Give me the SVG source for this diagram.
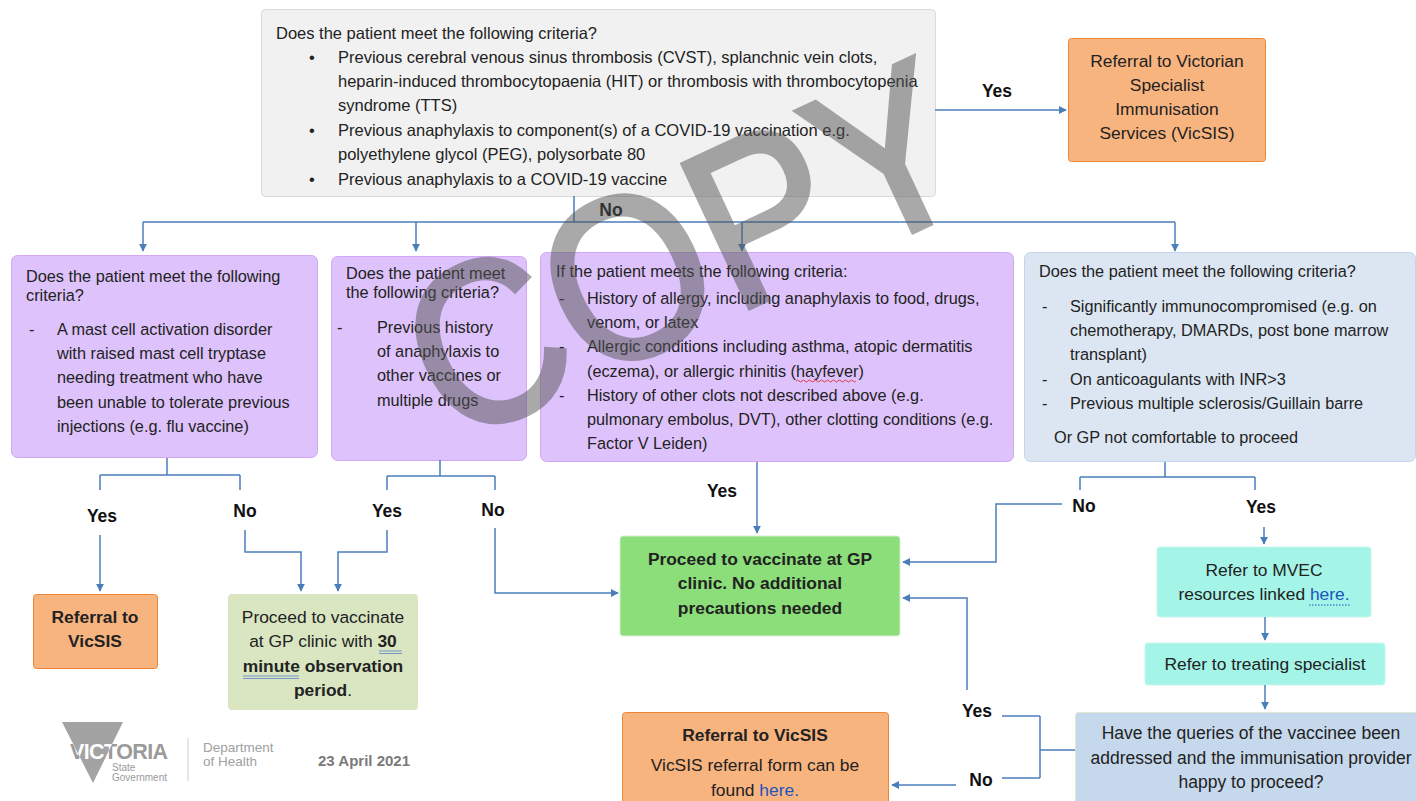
<svg xmlns="http://www.w3.org/2000/svg" width="1416" height="801" viewBox="0 0 1416 801">
<defs>
<style>
text{font-family:"Liberation Sans",Arial,sans-serif;fill:#222}
.t16{font-size:16.5px}
.t15{font-size:16.3px}
.t17{font-size:17.4px}
.b{font-weight:bold}
.lbl{font-size:17.5px;font-weight:bold;fill:#111}
.c{text-anchor:middle}
.conn path{fill:none;stroke:#4a7ebb;stroke-width:1.5}
.link{fill:#1a55c0}
</style>
<marker id="ah" viewBox="0 0 10 10" refX="9" refY="5" markerWidth="8" markerHeight="8" markerUnits="userSpaceOnUse" orient="auto">
<path d="M0,0 L10,5 L0,10 z" fill="#4a7ebb"/>
</marker>
<clipPath id="tri"><polygon points="62,722 123,722 93,783"/></clipPath>
</defs>
<rect width="1416" height="801" fill="#ffffff"/>

<g id="n-top">
<rect x="261.5" y="9.5" width="674" height="187" rx="4" fill="#f1f1f1" stroke="#dadada"/>
<text class="t16" x="276" y="39">Does the patient meet the following criteria?</text>
<text class="t16" x="309" y="63">•</text>
<text class="t16" x="338" y="63">Previous cerebral venous sinus thrombosis (CVST), splanchnic vein clots,</text>
<text class="t16" x="338" y="87">heparin-induced thrombocytopaenia (HIT) or thrombosis with thrombocytopenia</text>
<text class="t16" x="338" y="111">syndrome (TTS)</text>
<text class="t16" x="309" y="136">•</text>
<text class="t16" x="338" y="136">Previous anaphylaxis to component(s) of a COVID-19 vaccination e.g.</text>
<text class="t16" x="338" y="160">polyethylene glycol (PEG), polysorbate 80</text>
<text class="t16" x="309" y="185">•</text>
<text class="t16" x="338" y="185">Previous anaphylaxis to a COVID-19 vaccine</text>
</g>

<g id="n-vicsis-top">
<rect x="1068.5" y="38.5" width="197" height="123" rx="3" fill="#f8b47f" stroke="#ee8534"/>
<text class="t17 c" x="1167" y="67">Referral to Victorian</text>
<text class="t17 c" x="1167" y="91">Specialist</text>
<text class="t17 c" x="1167" y="115">Immunisation</text>
<text class="t17 c" x="1167" y="139">Services (VicSIS)</text>
</g>

<g id="n-mast">
<rect x="11.5" y="255.5" width="306" height="202" rx="6" fill="#dec2fb" stroke="#d2a8f5"/>
<text class="t15" x="26" y="282">Does the patient meet the following</text>
<text class="t15" x="26" y="301">criteria?</text>
<text class="t15" x="29" y="335">-</text>
<text class="t15" x="57" y="335">A mast cell activation disorder</text>
<text class="t15" x="57" y="359">with raised mast cell tryptase</text>
<text class="t15" x="57" y="383">needing treatment who have</text>
<text class="t15" x="57" y="408">been unable to tolerate previous</text>
<text class="t15" x="57" y="432">injections (e.g. flu vaccine)</text>
</g>

<g id="n-prevana">
<rect x="331.5" y="256.5" width="195" height="204" rx="6" fill="#dec2fb" stroke="#d2a8f5"/>
<text class="t15" x="346" y="279">Does the patient meet</text>
<text class="t15" x="346" y="298">the following criteria?</text>
<text class="t15" x="337" y="333">-</text>
<text class="t15" x="377" y="333">Previous history</text>
<text class="t15" x="377" y="357">of anaphylaxis to</text>
<text class="t15" x="377" y="381">other vaccines or</text>
<text class="t15" x="377" y="406">multiple drugs</text>
</g>

<g id="n-allergy">
<rect x="540.5" y="252.5" width="473" height="209" rx="6" fill="#dec2fb" stroke="#d2a8f5"/>
<text class="t15" x="556" y="277">If the patient meets the following criteria:</text>
<text class="t15" x="559" y="304">-</text>
<text class="t15" x="587" y="304">History of allergy, including anaphylaxis to food, drugs,</text>
<text class="t15" x="587" y="328">venom, or latex</text>
<text class="t15" x="559" y="352">-</text>
<text class="t15" x="587" y="352">Allergic conditions including asthma, atopic dermatitis</text>
<text class="t15" x="587" y="377">(eczema), or allergic rhinitis (hayfever)</text>
<path d="M796,381 q1.5,-2 3,0 t3,0 t3,0 t3,0 t3,0 t3,0 t3,0 t3,0 t3,0 t3,0 t3,0 t3,0 t3,0 t3,0 t3,0 t3,0 t3,0 t3,0 t3,0 t3,0" fill="none" stroke="#e03030" stroke-width="0.9"/>
<text class="t15" x="559" y="401">-</text>
<text class="t15" x="587" y="401">History of other clots not described above (e.g.</text>
<text class="t15" x="587" y="425">pulmonary embolus, DVT), other clotting conditions (e.g.</text>
<text class="t15" x="587" y="449">Factor V Leiden)</text>
</g>

<g id="n-immuno">
<rect x="1024.5" y="252.5" width="391" height="209" rx="6" fill="#dce6f2" stroke="#c2d5ec"/>
<text class="t15" x="1039" y="277">Does the patient meet the following criteria?</text>
<text class="t15" x="1042" y="312">-</text>
<text class="t15" x="1070" y="312">Significantly immunocompromised (e.g. on</text>
<text class="t15" x="1070" y="336">chemotherapy, DMARDs, post bone marrow</text>
<text class="t15" x="1070" y="360">transplant)</text>
<text class="t15" x="1042" y="385">-</text>
<text class="t15" x="1070" y="385">On anticoagulants with INR&gt;3</text>
<text class="t15" x="1042" y="409">-</text>
<text class="t15" x="1070" y="409">Previous multiple sclerosis/Guillain barre</text>
<text class="t15" x="1054" y="443">Or GP not comfortable to proceed</text>
</g>

<g id="n-vicsis-left">
<rect x="33.5" y="594.5" width="124" height="74" rx="3" fill="#f8b47f" stroke="#ee8534"/>
<text class="t17 b c" x="95" y="623">Referral to</text>
<text class="t17 b c" x="95" y="647">VicSIS</text>
</g>

<g id="n-30min">
<rect x="228" y="594" width="190" height="116" rx="4" fill="#d9e6c1"/>
<text class="t17 c" x="323" y="623">Proceed to vaccinate</text>
<text class="t17 c" x="323" y="647">at GP clinic with <tspan class="b">30</tspan></text>
<text class="t17 c" x="323" y="672"><tspan class="b">minute observation</tspan></text>
<text class="t17 c" x="323" y="696"><tspan class="b">period</tspan>.</text>
<path d="M379,651 h23 M379,653.5 h23 M243,676 h56 M243,678.5 h56" stroke="#5b7fcf" stroke-width="0.8" fill="none"/>
</g>

<g id="n-proceed">
<rect x="620" y="536" width="280" height="100" rx="3" fill="#8bde79" stroke="#d8efd2"/>
<text class="t17 b c" x="760" y="565">Proceed to vaccinate at GP</text>
<text class="t17 b c" x="760" y="589">clinic. No additional</text>
<text class="t17 b c" x="760" y="614">precautions needed</text>
</g>

<g id="n-mvec">
<rect x="1157" y="547" width="214" height="70" rx="3" fill="#a4f4e7" stroke="#c9f5ee"/>
<text class="t17 c" x="1264" y="576">Refer to MVEC</text>
<text class="t17 c" x="1264" y="600">resources linked <tspan class="link">here.</tspan></text>
<path d="M1309,605 h41" stroke="#1a55c0" stroke-width="1" stroke-dasharray="1.5,1.5"/>
</g>

<g id="n-specialist">
<rect x="1145" y="643" width="240" height="42" rx="3" fill="#a4f4e7" stroke="#c9f5ee"/>
<text class="t17 c" x="1265" y="670">Refer to treating specialist</text>
</g>

<g id="n-queries">
<rect x="1075.5" y="712.5" width="345" height="110" rx="3" fill="#c6d8ec" stroke="#dfe6d3"/>
<text class="c" style="font-size:17.5px" x="1251" y="739">Have the queries of the vaccinee been</text>
<text class="c" style="font-size:17.5px" x="1251" y="764">addressed and the immunisation provider</text>
<text class="c" style="font-size:17.5px" x="1251" y="788">happy to proceed?</text>
</g>

<g id="n-vicsis-bottom">
<rect x="622.5" y="712.5" width="266" height="110" rx="3" fill="#f8b47f" stroke="#ee8534"/>
<text class="t17 b c" x="755" y="741">Referral to VicSIS</text>
<text class="t17 c" x="755" y="771">VicSIS referral form can be</text>
<text class="t17 c" x="755" y="796">found <tspan class="link">here.</tspan></text>
</g>

<g id="connectors" class="conn">
<path d="M935,110 H1066" marker-end="url(#ah)"/>
<path d="M574,196 V222 M143,222 H1175"/>
<path d="M143,222 V251" marker-end="url(#ah)"/>
<path d="M416,222 V251" marker-end="url(#ah)"/>
<path d="M742,222 V251" marker-end="url(#ah)"/>
<path d="M1175,222 V251" marker-end="url(#ah)"/>
<path d="M167,458 V475 M100,475 H240 M100,475 V490 M240,475 V490"/>
<path d="M100,535 V591" marker-end="url(#ah)"/>
<path d="M245,530 V552 H301 V591" marker-end="url(#ah)"/>
<path d="M440,460 V476 M387,476 H495 M387,476 V490 M495,476 V490"/>
<path d="M387,530 V552 H338 V591" marker-end="url(#ah)"/>
<path d="M495,528 V593 H618" marker-end="url(#ah)"/>
<path d="M757,462 V533" marker-end="url(#ah)"/>
<path d="M1165,462 V477 M1080,477 H1255 M1080,477 V490 M1255,477 V490"/>
<path d="M1062,504 H996 V562 H903" marker-end="url(#ah)"/>
<path d="M1264,527 V544" marker-end="url(#ah)"/>
<path d="M1265,617 V640" marker-end="url(#ah)"/>
<path d="M1265,685 V709" marker-end="url(#ah)"/>
<path d="M1075,750 H1040 M1040,716 V778 M1040,716 H1002 M1040,778 H1002"/>
<path d="M967,690 V598 H903" marker-end="url(#ah)"/>
<path d="M956,785 H892" marker-end="url(#ah)"/>
</g>

<g id="labels">
<text class="lbl c" x="997" y="97">Yes</text>
<text class="lbl c" x="611" y="216">No</text>
<text class="lbl c" x="102" y="522">Yes</text>
<text class="lbl c" x="245" y="517">No</text>
<text class="lbl c" x="387" y="517">Yes</text>
<text class="lbl c" x="493" y="516">No</text>
<text class="lbl c" x="722" y="497">Yes</text>
<text class="lbl c" x="1084" y="512">No</text>
<text class="lbl c" x="1261" y="513">Yes</text>
<text class="lbl c" x="977" y="717">Yes</text>
<text class="lbl c" x="981" y="786">No</text>
</g>

<g id="logo">
<polygon points="62,722 123,722 93,783" fill="#a3a3a3"/>
<text x="70" y="759" style="font-size:21.5px;font-weight:bold;fill:#9a9a9a;letter-spacing:-0.6px">VICTORIA</text>
<text x="70" y="759" clip-path="url(#tri)" style="font-size:21.5px;font-weight:bold;fill:#ffffff;letter-spacing:-0.6px">VICTORIA</text>
<text x="112" y="771" style="font-size:10px;fill:#9a9a9a">State</text>
<text x="112" y="781" style="font-size:10px;fill:#9a9a9a">Government</text>
<path d="M188,738 V781" stroke="#cfcfcf" stroke-width="1"/>
<text x="203" y="752" style="font-size:13.5px;fill:#a0a0a0">Department</text>
<text x="203" y="766" style="font-size:13.5px;fill:#a0a0a0">of Health</text>
<text x="318" y="766" style="font-size:15px;font-weight:bold;fill:#7a7a7a">23 April 2021</text>
</g>

<g id="watermark" opacity="0.5" transform="translate(684,248) rotate(-25) scale(0.9,1)">
<text x="0" y="82" text-anchor="middle" style="font-size:230px;fill:#555;stroke:#555;stroke-width:5">COPY</text>
</g>
</svg>
